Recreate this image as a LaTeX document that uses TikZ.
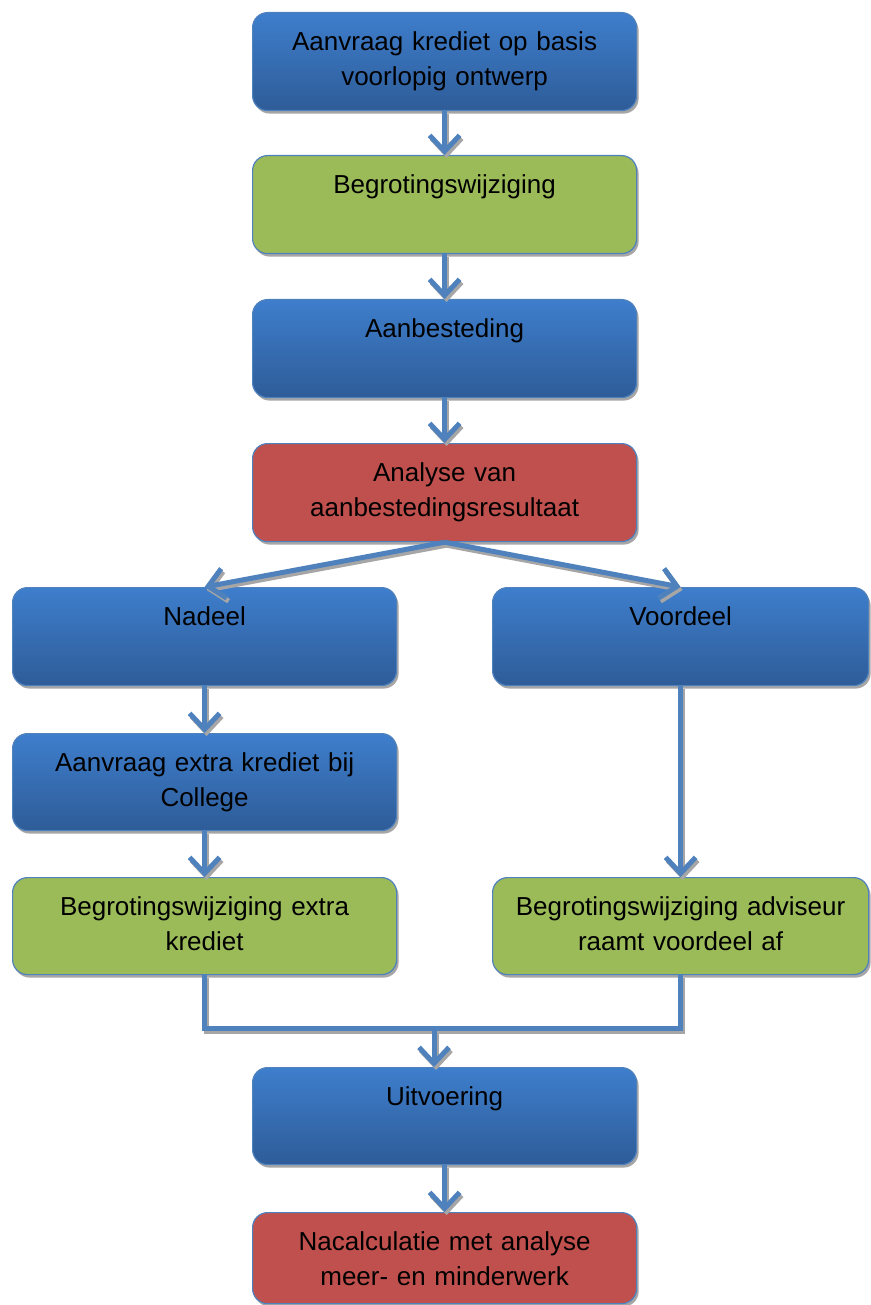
\documentclass[tikz,border=0pt]{standalone}
\usepackage{fontspec}
\setmainfont{Liberation Sans}
\usetikzlibrary{arrows.meta,shadows}

\definecolor{stepblue}{RGB}{62,126,204}
\definecolor{stepbluedark}{RGB}{46,92,152}
\definecolor{stepedge}{RGB}{79,129,189}
\definecolor{stepgreen}{RGB}{155,187,89}
\definecolor{stepred}{RGB}{192,80,77}
\definecolor{flowblue}{RGB}{79,129,189}

\tikzset{
  stepbox/.style={rectangle, rounded corners=15pt, draw=stepedge, line width=1.2pt,
    anchor=north west, inner xsep=4pt, inner ysep=0pt, text width=376pt, align=center,
    text height=38pt, text depth=60pt, font=\fontsize{26}{34.5}\selectfont,
    drop shadow={shadow xshift=2pt, shadow yshift=-3pt, fill=black!35, opacity=1}},
  bluebox/.style={stepbox, top color=stepblue, bottom color=stepbluedark},
  greenbox/.style={stepbox, fill=stepgreen},
  redbox/.style={stepbox, fill=stepred},
  flowline/.style={draw=flowblue, line width=5pt,
    preaction={draw=black!35, line width=5pt, transform canvas={shift={(2pt,-3pt)}}}},
  flow/.style={flowline, -{Straight Barb[length=16pt, width=30pt]}},
}

\begin{document}
\begin{tikzpicture}[x=1pt, y=-1pt]
    \useasboundingbox (0,0) rectangle (870,1305);

    % Main column
    \node[bluebox] (aanvraag) at (252,12) {Aanvraag krediet op basis\\voorlopig ontwerp};
    \node[greenbox] (begroting) at (252,155) {Begrotingswijziging};
    \node[bluebox] (aanbesteding) at (252,299) {Aanbesteding};
    \node[redbox] (analyse) at (252,443) {Analyse van\\aanbestedingsresultaat};

    % Left branch
    \node[bluebox] (nadeel) at (12,587) {Nadeel};
    \node[bluebox, text depth=59pt] (extra) at (12,733) {Aanvraag extra krediet bij\\College};
    \node[greenbox, text depth=59pt] (begrotingextra) at (12,877) {Begrotingswijziging extra\\krediet};

    % Right branch
    \node[bluebox, text width=368pt] (voordeel) at (492,587) {Voordeel};
    \node[greenbox, text width=368pt, text depth=59pt] (begrotingadviseur) at (492,877) {Begrotingswijziging adviseur\\raamt voordeel af};

    % Bottom
    \node[bluebox, text depth=59pt] (uitvoering) at (252,1067) {Uitvoering};
    \node[redbox, text depth=53pt] (nacalculatie) at (252,1212) {Nacalculatie met analyse\\meer- en minderwerk};

    % Arrows
    \draw[flow] (aanvraag.south) -- (begroting.north);
    \draw[flow] (begroting.south) -- (aanbesteding.north);
    \draw[flow] (aanbesteding.south) -- (analyse.north);
    \draw[flow] (analyse.south) -- (nadeel.north);
    \draw[flow] (analyse.south) -- (voordeel.north);
    \draw[flow] (nadeel.south) -- (extra.north);
    \draw[flow] (extra.south) -- (begrotingextra.north);
    \draw[flow] (voordeel.south) -- (begrotingadviseur.north);

    % Both branches come together
    \coordinate (samen) at (434,1028);
    \draw[flowline] (begrotingextra.south) |- (samen) -| (begrotingadviseur.south);
    \draw[flow] (samen) -- (samen |- uitvoering.north);
    \draw[flow] (uitvoering.south) -- (nacalculatie.north);
\end{tikzpicture}
\end{document}
